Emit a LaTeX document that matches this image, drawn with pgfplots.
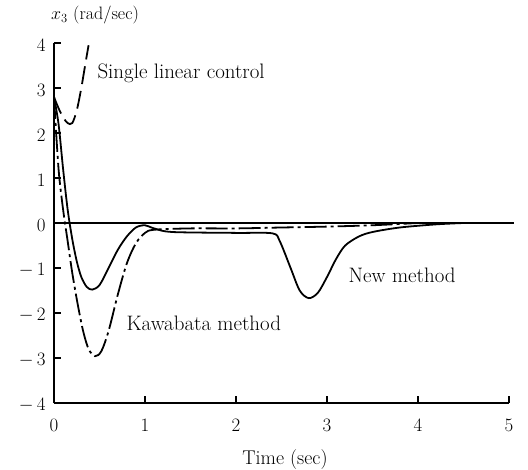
\RequirePackage{fix-cm}
\documentclass[border=0pt]{standalone}
\usepackage{pgfplots}
\pgfplotsset{compat=1.18}
\begin{document}
\begin{tikzpicture}
\begin{axis}[
  scale only axis,
  width=455bp, height=360bp,
  xmin=0, xmax=5, ymin=-4, ymax=4,
  axis lines*=left,
  axis line style={line width=1.6pt},
  clip=false,
  xtick={0,1,2,3,4,5},
  xticklabels={0,1,2,3,4,5},
  ytick={-4,-3,-2,-1,0,1,2,3,4},
  yticklabels={{$-$\,4},{$-$\,3},{$-$\,2},{$-$\,1},0,1,2,3,4},
  tick align=inside,
  major tick length=7bp,
  tick style={line width=1.4pt, black},
  xticklabel style={font=\fontsize{19}{22}\selectfont, yshift=-12bp},
  yticklabel style={font=\fontsize{19}{22}\selectfont, xshift=-5bp, yshift=-2bp},
]
\addplot[black, line width=1.2pt] coordinates {(0,0) (5.05,0)};
% New method
\addplot[black, line width=1.8pt, smooth, tension=0.5] coordinates {
(0,2.8) (0.05,2.2) (0.1,1.2) (0.15,0.3) (0.2,-0.35) (0.25,-0.85) (0.3,-1.2) (0.36,-1.42) (0.42,-1.48) (0.5,-1.38) (0.6,-1.0) (0.7,-0.6) (0.8,-0.3) (0.9,-0.1) (1.0,-0.05) (1.1,-0.12) (1.3,-0.2) (2.0,-0.22) (2.4,-0.23) (2.48,-0.4) (2.6,-1.0) (2.7,-1.5) (2.8,-1.67) (2.9,-1.55) (3.0,-1.2) (3.1,-0.8) (3.2,-0.5) (3.35,-0.3) (3.5,-0.2) (3.8,-0.1) (4.2,-0.03) (4.5,0)};
% Kawabata method
\addplot[black, line width=1.8pt, smooth, tension=0.5, dash pattern=on 22bp off 4bp on 3bp off 4bp] coordinates {
(0,2.8) (0.05,1.2) (0.1,0.3) (0.15,-0.4) (0.2,-1.1) (0.26,-1.8) (0.32,-2.4) (0.38,-2.8) (0.45,-2.96) (0.52,-2.85) (0.6,-2.4) (0.7,-1.6) (0.8,-0.9) (0.9,-0.45) (1.0,-0.22) (1.1,-0.15) (1.5,-0.12) (2.0,-0.12) (2.5,-0.1) (3.0,-0.08) (3.5,-0.05) (4.0,0)};
% Single linear control
\addplot[black, line width=1.8pt, smooth, tension=0.5, dash pattern=on 18bp off 7bp] coordinates {
(0,2.8) (0.05,2.55) (0.1,2.35) (0.15,2.22) (0.2,2.22) (0.25,2.5) (0.3,3.0) (0.35,3.6) (0.38,3.95)};
\node[anchor=west, font=\fontsize{21}{25}\selectfont] at (axis cs:0.44,3.33) {Single linear control};
\node[anchor=west, font=\fontsize{21}{25}\selectfont] at (axis cs:3.2,-1.16) {New method};
\node[anchor=west, font=\fontsize{21}{25}\selectfont] at (axis cs:0.76,-2.24) {Kawabata method};
\end{axis}
\node[anchor=west, inner sep=0pt, font=\fontsize{18}{22}\selectfont] at (-3bp,388bp) {$x_3$ (rad/sec)};
\node[inner sep=0pt, font=\fontsize{20}{24}\selectfont] at (231bp,-57bp) {Time (sec)};
\pgfresetboundingbox
\path[use as bounding box] (-54bp,-67bp) rectangle (474bp,403bp);
\end{tikzpicture}
\end{document}
